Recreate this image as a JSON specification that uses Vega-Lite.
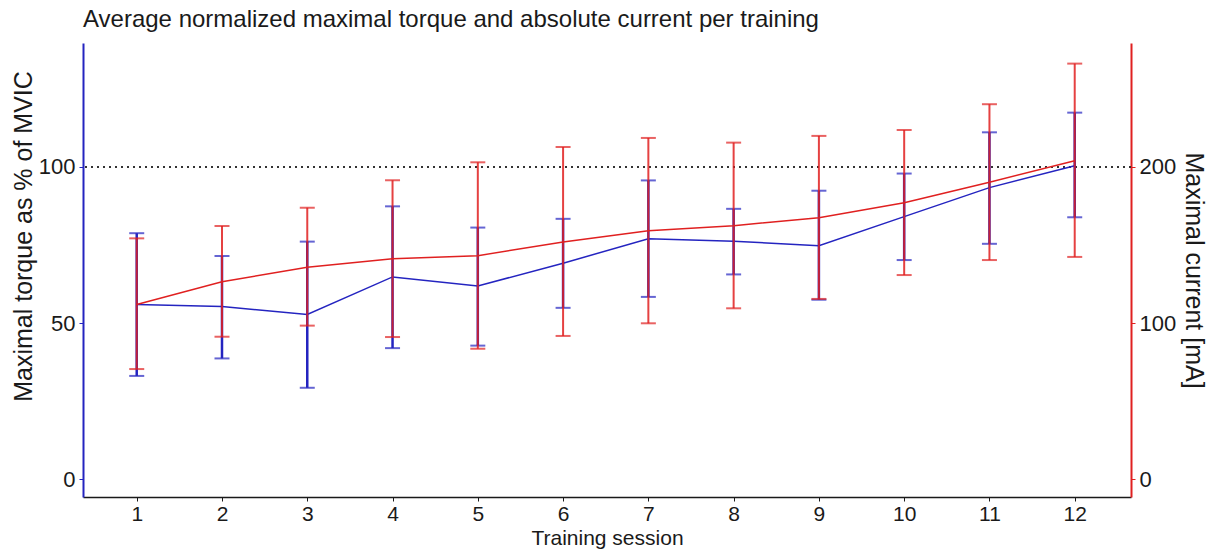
{
  "$schema": "https://vega.github.io/schema/vega-lite/v6.json",
  "autosize": {"type": "none"},
  "width": 1048,
  "height": 454,
  "padding": {"left": 83, "top": 43, "right": 77, "bottom": 54},
  "background": "white",
  "config": {
    "font": "Liberation Sans",
    "view": {"stroke": null},
    "axis": {"grid": false, "labelFontSize": 21, "labelColor": "#1a1a1a", "titleFontSize": 21, "titleFontWeight": "normal", "titleColor": "#1a1a1a", "tickSize": 4}
  },
  "title": {"text": "Average normalized maximal torque and absolute current per training", "anchor": "start", "frame": "group", "fontSize": 24, "fontWeight": "normal", "color": "#1a1a1a", "offset": 11},
  "data": {"values": [
    {"session": 1, "torque": 56.0, "torque_lo": 33.1, "torque_hi": 78.8, "current": 112.0, "current_lo": 70.6, "current_hi": 154.3},
    {"session": 2, "torque": 55.3, "torque_lo": 38.7, "torque_hi": 71.5, "current": 126.5, "current_lo": 91.3, "current_hi": 162.2},
    {"session": 3, "torque": 52.8, "torque_lo": 29.3, "torque_hi": 76.1, "current": 135.8, "current_lo": 98.4, "current_hi": 173.9},
    {"session": 4, "torque": 64.8, "torque_lo": 42.0, "torque_hi": 87.4, "current": 141.3, "current_lo": 91.1, "current_hi": 191.5},
    {"session": 5, "torque": 61.9, "torque_lo": 42.8, "torque_hi": 80.6, "current": 143.2, "current_lo": 83.6, "current_hi": 203.0},
    {"session": 6, "torque": 69.2, "torque_lo": 54.9, "torque_hi": 83.4, "current": 152.0, "current_lo": 91.8, "current_hi": 212.8},
    {"session": 7, "torque": 77.0, "torque_lo": 58.4, "torque_hi": 95.7, "current": 159.2, "current_lo": 99.9, "current_hi": 218.6},
    {"session": 8, "torque": 76.2, "torque_lo": 65.6, "torque_hi": 86.6, "current": 162.4, "current_lo": 109.5, "current_hi": 215.6},
    {"session": 9, "torque": 74.8, "torque_lo": 57.5, "torque_hi": 92.4, "current": 167.5, "current_lo": 115.5, "current_hi": 219.9},
    {"session": 10, "torque": 84.1, "torque_lo": 70.2, "torque_hi": 97.9, "current": 177.1, "current_lo": 130.8, "current_hi": 223.7},
    {"session": 11, "torque": 93.4, "torque_lo": 75.4, "torque_hi": 111.1, "current": 190.2, "current_lo": 140.4, "current_hi": 240.2},
    {"session": 12, "torque": 100.4, "torque_lo": 83.9, "torque_hi": 117.4, "current": 204.0, "current_lo": 142.4, "current_hi": 266.2}
  ]},
  "encoding": {
    "x": {"field": "session", "type": "quantitative", "scale": {"domain": [0.37, 12.66], "nice": false, "zero": false},
      "axis": {"values": [1,2,3,4,5,6,7,8,9,10,11,12], "title": "Training session", "domainColor": "#1a1a1a", "domainWidth": 1.5, "tickColor": "#1a1a1a", "labelPadding": 2, "titlePadding": 3}}
  },
  "layer": [
    {
      "layer": [
        {"mark": {"type": "rule", "color": "#333333", "strokeDash": [2, 4], "strokeWidth": 1.5}, "encoding": {"y": {"datum": 100}, "x": null}},
        {"mark": {"type": "rule", "color": "#2424c0", "strokeWidth": 2.5}, "encoding": {"y": {"field": "torque_lo", "type": "quantitative"}, "y2": {"field": "torque_hi"}}},
        {"mark": {"type": "tick", "orient": "horizontal", "color": "#2424c0", "size": 15, "thickness": 2}, "encoding": {"y": {"field": "torque_hi", "type": "quantitative"}}},
        {"mark": {"type": "tick", "orient": "horizontal", "color": "#2424c0", "size": 15, "thickness": 2}, "encoding": {"y": {"field": "torque_lo", "type": "quantitative"}}},
        {"mark": {"type": "line", "color": "#2424c0", "strokeWidth": 1.5}, "encoding": {"y": {"field": "torque", "type": "quantitative"}}}
      ],
      "encoding": {
        "y": {"type": "quantitative", "scale": {"domain": [-5.67, 139.7], "nice": false, "zero": false},
          "axis": {"orient": "left", "values": [0, 50, 100], "title": "Maximal torque as % of MVIC", "titleFontSize": 25, "titleY": 193, "labelFontSize": 22, "domainColor": "#2424c0", "domainWidth": 2, "tickColor": "#2424c0", "labelPadding": 4, "titlePadding": 2}}
      }
    },
    {
      "layer": [
        {"mark": {"type": "rule", "color": "#e02020", "strokeWidth": 2, "opacity": 0.85}, "encoding": {"y": {"field": "current_lo", "type": "quantitative"}, "y2": {"field": "current_hi"}}},
        {"mark": {"type": "tick", "orient": "horizontal", "color": "#e02020", "size": 15, "thickness": 2}, "encoding": {"y": {"field": "current_hi", "type": "quantitative"}}},
        {"mark": {"type": "tick", "orient": "horizontal", "color": "#e02020", "size": 15, "thickness": 2}, "encoding": {"y": {"field": "current_lo", "type": "quantitative"}}},
        {"mark": {"type": "line", "color": "#e02020", "strokeWidth": 1.5}, "encoding": {"y": {"field": "current", "type": "quantitative"}}}
      ],
      "encoding": {
        "y": {"type": "quantitative", "scale": {"domain": [-11.34, 279.4], "nice": false, "zero": false},
          "axis": {"orient": "right", "values": [0, 100, 200], "title": "Maximal current [mA]", "titleFontSize": 25, "labelFontSize": 22, "domainColor": "#e02020", "domainWidth": 2, "tickColor": "#e02020", "labelPadding": 4, "titlePadding": 5}}
      }
    }
  ],
  "resolve": {"scale": {"y": "independent"}}
}
